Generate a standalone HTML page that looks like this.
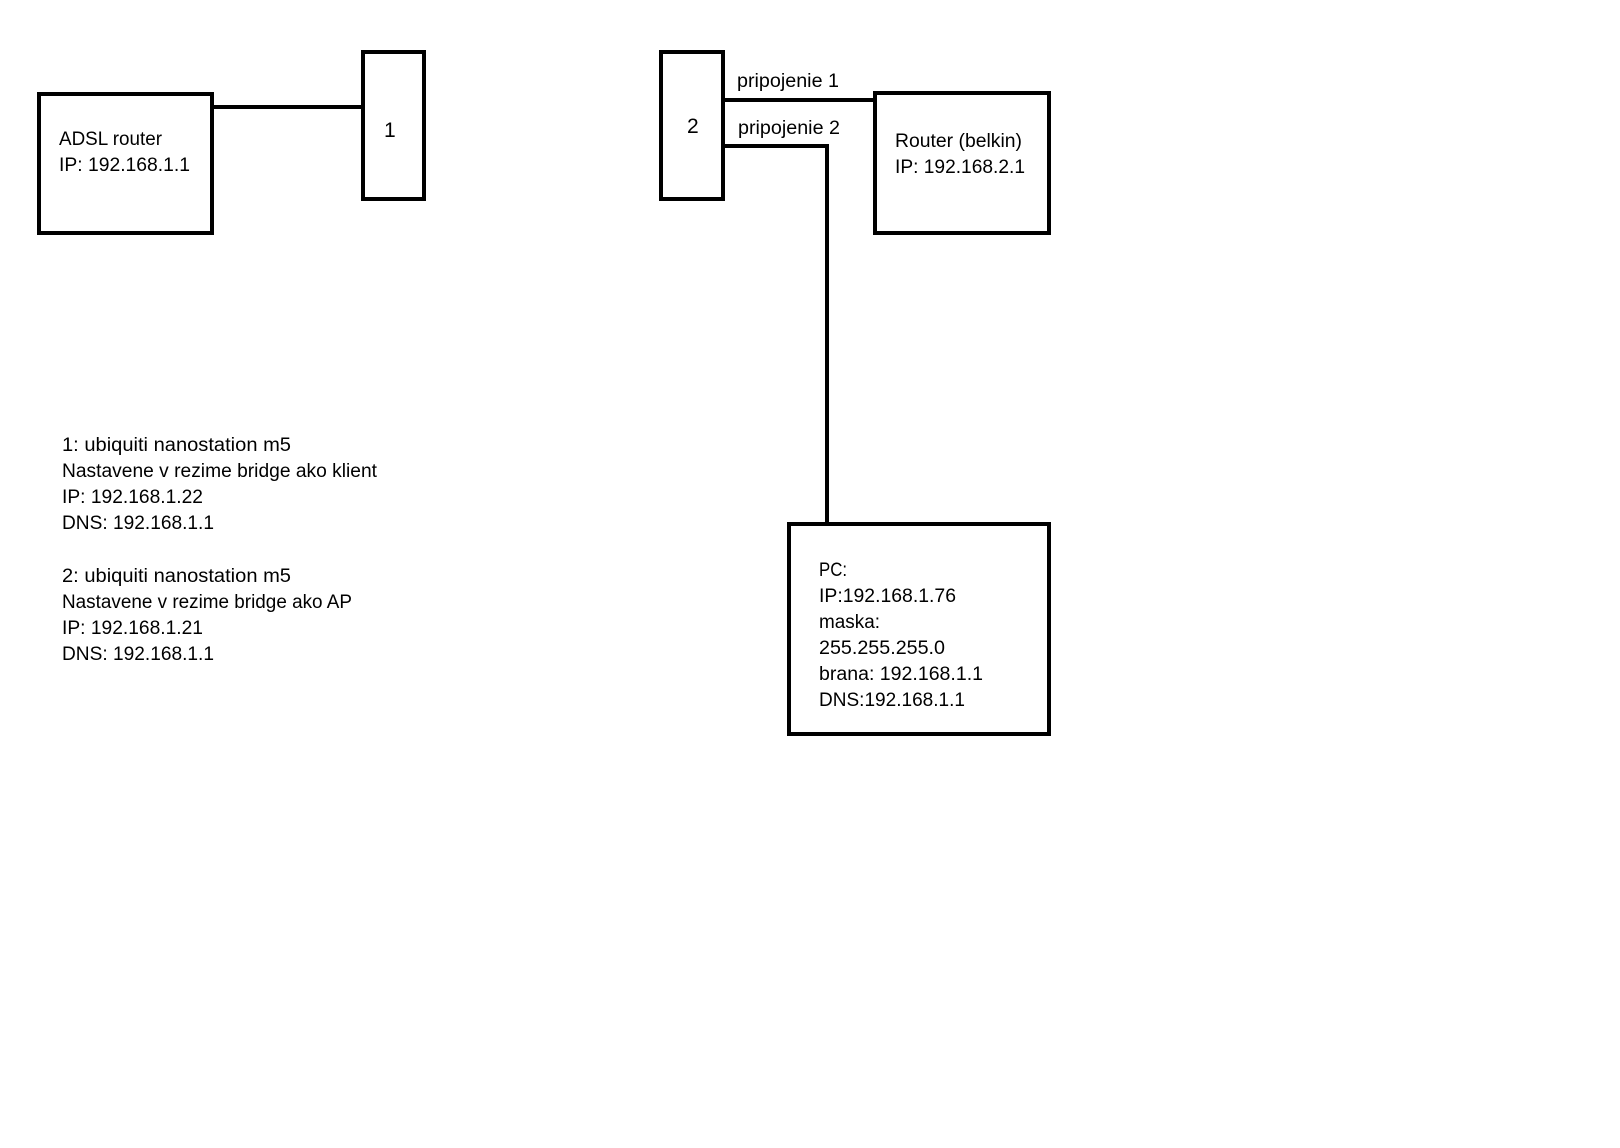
<!DOCTYPE html>
<html><head><meta charset="utf-8"><style>
html,body{margin:0;padding:0;background:#fff;}
svg{display:block;}
text{font-family:"Liberation Sans",sans-serif;font-size:19px;fill:#000;}
</style></head><body>
<svg width="1620" height="1148" xmlns="http://www.w3.org/2000/svg">
<g fill="none" stroke="#000" stroke-width="4">
<rect x="39" y="94" width="173" height="139"/>
<rect x="363" y="52" width="61" height="147"/>
<rect x="661" y="52" width="62" height="147"/>
<rect x="875" y="93" width="174" height="140"/>
<rect x="789" y="524" width="260" height="210"/>
<line x1="212" y1="107" x2="363" y2="107"/>
<line x1="723" y1="100" x2="875" y2="100"/>
<polyline points="723,146 827,146 827,524"/>
</g>
<text x="384" y="137" style="font-size:21px">1</text>
<text x="687" y="133" style="font-size:21px">2</text>
<text x="59" y="145" textLength="103" lengthAdjust="spacingAndGlyphs">ADSL router</text>
<text x="59" y="171" textLength="131" lengthAdjust="spacingAndGlyphs">IP: 192.168.1.1</text>
<text x="737" y="87" textLength="102" lengthAdjust="spacingAndGlyphs">pripojenie 1</text>
<text x="738" y="134" textLength="102" lengthAdjust="spacingAndGlyphs">pripojenie 2</text>
<text x="895" y="147" textLength="127" lengthAdjust="spacingAndGlyphs">Router (belkin)</text>
<text x="895" y="173" textLength="130" lengthAdjust="spacingAndGlyphs">IP: 192.168.2.1</text>
<text x="62" y="451" textLength="229" lengthAdjust="spacingAndGlyphs">1: ubiquiti nanostation m5</text>
<text x="62" y="477" textLength="315" lengthAdjust="spacingAndGlyphs">Nastavene v rezime bridge ako klient</text>
<text x="62" y="503" textLength="141" lengthAdjust="spacingAndGlyphs">IP: 192.168.1.22</text>
<text x="62" y="529" textLength="152" lengthAdjust="spacingAndGlyphs">DNS: 192.168.1.1</text>
<text x="62" y="582" textLength="229" lengthAdjust="spacingAndGlyphs">2: ubiquiti nanostation m5</text>
<text x="62" y="608" textLength="290" lengthAdjust="spacingAndGlyphs">Nastavene v rezime bridge ako AP</text>
<text x="62" y="634" textLength="141" lengthAdjust="spacingAndGlyphs">IP: 192.168.1.21</text>
<text x="62" y="660" textLength="152" lengthAdjust="spacingAndGlyphs">DNS: 192.168.1.1</text>
<text x="819" y="576" textLength="28" lengthAdjust="spacingAndGlyphs">PC:</text>
<text x="819" y="602" textLength="137" lengthAdjust="spacingAndGlyphs">IP:192.168.1.76</text>
<text x="819" y="628" textLength="61" lengthAdjust="spacingAndGlyphs">maska:</text>
<text x="819" y="654" textLength="126" lengthAdjust="spacingAndGlyphs">255.255.255.0</text>
<text x="819" y="680" textLength="164" lengthAdjust="spacingAndGlyphs">brana: 192.168.1.1</text>
<text x="819" y="706" textLength="146" lengthAdjust="spacingAndGlyphs">DNS:192.168.1.1</text>
</svg>
</body></html>
